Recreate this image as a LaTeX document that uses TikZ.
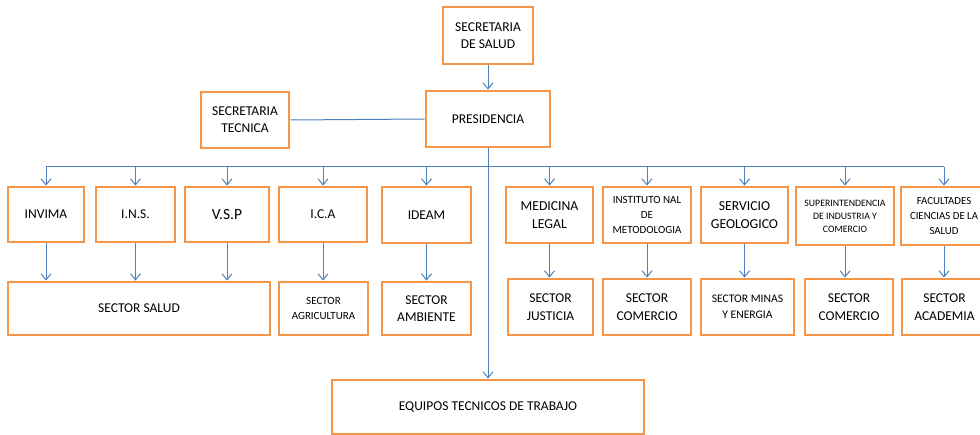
\documentclass[tikz,border=0pt]{standalone}
\usepackage{fontspec}
\setmainfont{Carlito}
\usetikzlibrary{arrows.meta}
\definecolor{boxorange}{HTML}{F79646}
\definecolor{lineblue}{HTML}{4F81BD}
\tikzset{
  orgbox/.style={draw=boxorange, line width=2.9pt, fill=white, rectangle, inner sep=0pt, align=center,
    font=\fontsize{13.5}{17}\selectfont},
  small/.style={font=\fontsize{11}{14.7}\selectfont},
  tiny/.style={font=\fontsize{9.8}{13}\selectfont},
  conn/.style={draw=lineblue, line width=1pt},
  arr/.style={conn, -{Straight Barb[length=6pt,width=10pt]}}
}
\begin{document}
\begin{tikzpicture}[x=1pt,y=-1pt]
\clip (0,0) rectangle (980,435);
\fill[white] (0,0) rectangle (980,435);
% top
\node[orgbox, minimum width=90, minimum height=57] (sds) at (488,35.5) {SECRETARIA\\DE SALUD};
\node[orgbox, minimum width=124, minimum height=56] (pres) at (488,119) {PRESIDENCIA};
\node[orgbox, minimum width=88, minimum height=56] (stec) at (245,120) {SECRETARIA\\TECNICA};
% row 1
\node[orgbox, minimum width=76, minimum height=55] (invima) at (46,214.5) {INVIMA};
\node[orgbox, minimum width=79, minimum height=55] (ins) at (135.5,214.5) {I.N.S.};
\node[orgbox, minimum width=84, minimum height=55, font=\fontsize{15.5}{18}\selectfont] (vsp) at (227,214.5) {V.S.P};
\node[orgbox, minimum width=88, minimum height=55] (ica) at (323,214.5) {I.C.A};
\node[orgbox, minimum width=89, minimum height=56] (ideam) at (426.5,215) {IDEAM};
\node[orgbox, minimum width=87, minimum height=56, font=\fontsize{13.7}{17.7}\selectfont] (med) at (549.5,215) {MEDICINA\\LEGAL};
\node[orgbox, small, minimum width=88, minimum height=56] (inst) at (647,215) {INSTITUTO NAL\\DE\\METODOLOGIA};
\node[orgbox, minimum width=87, minimum height=56, font=\fontsize{13.7}{17.7}\selectfont] (serv) at (744.5,215) {SERVICIO\\GEOLOGICO};
\node[orgbox, tiny, minimum width=98, minimum height=58] (super) at (845,216) {SUPERINTENDENCIA\\DE INDUSTRIA Y\\COMERCIO};
\node[orgbox, font=\fontsize{10.8}{14.7}\selectfont, minimum width=86, minimum height=58] (fac) at (944,216) {FACULTADES\\CIENCIAS DE LA\\SALUD};
% row 2
\node[orgbox, minimum width=262, minimum height=53] (salud) at (139,308.5) {SECTOR SALUD};
\node[orgbox, small, minimum width=89, minimum height=53] (agri) at (323.5,308.5) {SECTOR\\AGRICULTURA};
\node[orgbox, minimum width=89, minimum height=53] (amb) at (426.5,308.5) {SECTOR\\AMBIENTE};
\node[orgbox, minimum width=85, minimum height=56, font=\fontsize{13.5}{17.7}\selectfont] (just) at (550.5,307) {SECTOR\\JUSTICIA};
\node[orgbox, minimum width=88, minimum height=56, font=\fontsize{13.5}{17.7}\selectfont] (com1) at (647,307) {SECTOR\\COMERCIO};
\node[orgbox, font=\fontsize{11.6}{15.7}\selectfont, minimum width=93, minimum height=56] (minas) at (747.5,307) {SECTOR MINAS\\Y ENERGIA};
\node[orgbox, minimum width=88, minimum height=56, font=\fontsize{13.5}{17.7}\selectfont] (com2) at (849,307) {SECTOR\\COMERCIO};
\node[orgbox, minimum width=85, minimum height=56, font=\fontsize{13.5}{17.7}\selectfont] (acad) at (944.5,307) {SECTOR\\ACADEMIA};
% bottom
\node[orgbox, minimum width=312, minimum height=54] (equipos) at (488,407) {EQUIPOS TECNICOS DE TRABAJO};
% connectors
\coordinate (bus) at (488,167);
\draw[arr] (sds.south) -- (pres.north);
\draw[conn] (stec.east) -- (pres.west);
\draw[arr] (pres.south) -- (equipos.north);
\draw[conn] (bus -| invima.north) -- (bus -| fac.north);
\foreach \n in {invima,ins,vsp,ica,ideam,med,inst,serv,super,fac}{
  \draw[arr] (bus -| \n.north) -- (\n.north);
}
\foreach \n in {invima,ins,vsp}{
  \draw[arr] (\n.south) -- (\n.south |- salud.north);
}
\draw[arr] (ica.south) -- (ica.south |- agri.north);
\draw[arr] (ideam.south) -- (ideam.south |- amb.north);
\draw[arr] (med.south) -- (med.south |- just.north);
\draw[arr] (inst.south) -- (inst.south |- com1.north);
\draw[arr] (serv.south) -- (serv.south |- minas.north);
\draw[arr] (super.south) -- (super.south |- com2.north);
\draw[arr] (fac.south) -- (fac.south |- acad.north);
\end{tikzpicture}
\end{document}
